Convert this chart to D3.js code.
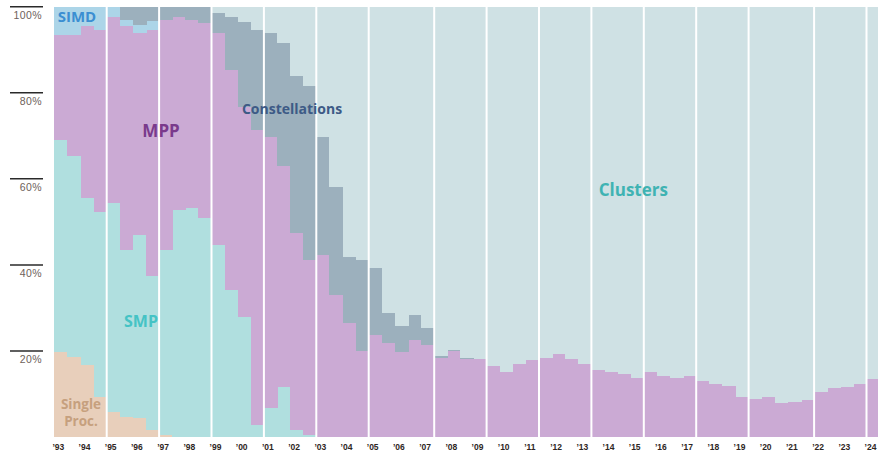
<!DOCTYPE html>
<html>
<head>
<meta charset="utf-8">
<script src="https://cdn.jsdelivr.net/npm/d3@7"></script>
<style>
  body { margin: 0; background: #fff; }
  svg { display: block; }
</style>
</head>
<body>
<div id="chart"></div>
<script>
// TOP500 architecture share, one bar per list (June / November)
const years = ["93","94","95","96","97","98","99","00","01","02","03","04","05","06","07","08",
               "09","10","11","12","13","14","15","16","17","18","19","20","21","22","23","24"];
const lists = years.flatMap(y => ["6/" + y, "11/" + y]).slice(0, 63);

const singleProc = [19.8,18.7,16.7,9.4,5.9,4.7,4.4,1.6,0.4,0, 0,0,0,0,0,0,0,0,0,0,
  0,0,0,0,0,0,0,0,0,0, 0,0,0,0,0,0,0,0,0,0, 0,0,0,0,0,0,0,0,0,0, 0,0,0,0,0,0,0,0,0,0, 0,0,0];
const smp = [49.3,46.5,38.8,43.0,48.4,38.8,42.6,35.7,43.1,52.8, 53.2,51.0,44.7,34.2,28.0,2.8,6.7,11.7,1.6,0.5,
  0,0,0,0,0,0,0,0,0,0, 0,0,0,0,0,0,0,0,0,0, 0,0,0,0,0,0,0,0,0,0, 0,0,0,0,0,0,0,0,0,0, 0,0,0];
const mpp = [24.3,28.2,39.9,42.3,43.4,51.9,46.9,57.4,53.4,44.9, 43.7,45.2,49.2,51.1,48.8,68.6,63.1,51.2,45.8,40.7,
  42.3,33.0,26.5,20.0,23.7,21.8,19.8,22.6,21.4,18.3, 20.0,18.1,18.1,16.4,15.2,17.0,17.8,18.3,19.2,18.1,
  17.0,15.6,15.2,14.6,13.8,15.2,14.2,13.8,14.2,12.9, 12.3,11.9,9.2,8.8,9.2,7.8,8.1,8.6,10.5,11.5, 11.6,12.3,13.4];
const simd = [6.6,6.6,4.6,5.3,2.3,1.6,1.9,1.9,0,0, 0,0,0,0,0,0,0,0,0,0,
  0,0,0,0,0,0,0,0,0,0, 0,0,0,0,0,0,0,0,0,0, 0,0,0,0,0,0,0,0,0,0, 0,0,0,0,0,0,0,0,0,0, 0,0,0];
const constellations = [0,0,0,0,0,3.0,4.2,3.4,3.1,2.3, 3.1,3.8,4.6,12.4,19.7,23.3,24.1,28.6,36.4,40.3,
  27.5,25.2,15.4,21.2,15.5,7.0,5.9,5.8,3.9,0.5, 0.3,0.2,0,0,0,0,0,0,0,0,
  0,0,0,0,0,0,0,0,0,0, 0,0,0,0,0,0,0,0,0,0, 0,0,0];
const clusters = [0,0,0,0,0,0,0,0,0,0, 0,0,1.5,2.3,3.5,5.3,6.1,8.5,16.2,18.5,
  30.2,41.8,58.1,58.8,60.8,71.2,74.3,71.6,74.7,81.2, 79.7,81.7,81.9,83.6,84.8,83.0,82.2,81.7,80.8,81.9,
  83.0,84.4,84.8,85.4,86.2,84.8,85.8,86.2,85.8,87.1, 87.7,88.1,90.8,91.2,90.8,92.2,91.9,91.4,89.5,88.5, 88.4,87.7,86.6];

const dividers = ["6/95","6/97","6/99","6/01","6/03","6/05","11/07","11/09","11/11","11/13",
                  "11/15","11/17","11/19","6/22","6/24"];
const yTicks = [20, 40, 60, 80, 100];

const keys = ["single", "smp", "mpp", "simd", "constellations", "clusters"];
const colors = {
  single: "#e8cfbb", smp: "#b0dfdf", mpp: "#cbaad4",
  simd: "#acd5e8", constellations: "#9cb0bd", clusters: "#cfe1e4"
};

const table = lists.map((l, i) => ({
  list: l, single: singleProc[i], smp: smp[i], mpp: mpp[i],
  simd: simd[i], constellations: constellations[i], clusters: clusters[i]
}));

const width = 878, height = 455;
const svg = d3.select("#chart").append("svg")
  .attr("width", width).attr("height", height);

const x = d3.scaleBand().domain(lists).range([54.3, 54.3 + 63 * 13.1]).padding(0);
const y = d3.scaleLinear().domain([0, 100]).range([437, 6.7]);
const xAt = i => x(lists[0]) + i * x.bandwidth();

const series = d3.stack().keys(keys)(table);

svg.append("g")
  .selectAll("g")
  .data(series)
  .join("g")
  .attr("fill", d => colors[d.key])
  .selectAll("rect")
  .data(d => d)
  .join("rect")
  .attr("shape-rendering", "crispEdges")
  .attr("x", d => x(d.data.list))
  .attr("width", x.bandwidth() + 0.5)
  .attr("y", d => y(d[1]))
  .attr("height", d => Math.max(0, y(d[0]) - y(d[1])));

// white year dividers
svg.append("g")
  .selectAll("line")
  .data(dividers)
  .join("line")
  .attr("x1", d => x(d)).attr("x2", d => x(d))
  .attr("y1", y(100)).attr("y2", y(0))
  .attr("stroke", "#fff")
  .attr("stroke-width", 2);

// y ticks: short dark rule with label underneath
const yg = svg.append("g");
yg.selectAll("line")
  .data(yTicks)
  .join("line")
  .attr("x1", 10).attr("x2", 43)
  .attr("y1", d => y(d)).attr("y2", d => y(d))
  .attr("stroke", "#2a2a2a")
  .attr("stroke-width", 1.5);
yg.selectAll("text")
  .data(yTicks)
  .join("text")
  .attr("x", 42)
  .attr("y", d => y(d) + 12)
  .attr("text-anchor", "end")
  .attr("font-family", "Liberation Sans, Arial, sans-serif")
  .attr("font-size", 10.5)
  .attr("letter-spacing", 0.4)
  .attr("fill", "#6e625a")
  .text(d => d + "%");

// x labels, one per year
svg.append("g")
  .selectAll("text")
  .data(years)
  .join("text")
  .attr("x", d => x("6/" + d) + 4)
  .attr("y", 450)
  .attr("text-anchor", "middle")
  .attr("font-family", "Liberation Sans, Arial, sans-serif")
  .attr("font-weight", "bold")
  .attr("font-size", 8.5)
  .attr("fill", "#2e2623")
  .text(d => "\u2019" + d);

// category annotations
const annotations = [
  {text: "SIMD", i: 1.73, v: 97.6, color: "#3b8fd2", size: 15},
  {text: "MPP", i: 8.15, v: 71.2, color: "#7a3a8c", size: 17},
  {text: "SMP", i: 6.62, v: 26.9, color: "#45c3c5", size: 16},
  {text: "Single", i: 2.04, v: 7.5, color: "#c6a07e", size: 13.5},
  {text: "Proc.", i: 2.04, v: 3.7, color: "#c6a07e", size: 13.5},
  {text: "Constellations", i: 18.15, v: 76.3, color: "#3d5a86", size: 14},
  {text: "Clusters", i: 44.2, v: 57.4, color: "#3fb3b3", size: 17}
];

svg.append("g")
  .selectAll("text")
  .data(annotations)
  .join("text")
  .attr("x", d => xAt(d.i))
  .attr("y", d => y(d.v))
  .attr("dy", "0.35em")
  .attr("text-anchor", "middle")
  .attr("font-family", "Open Sans, Noto Sans, sans-serif")
  .attr("font-weight", "bold")
  .attr("font-size", d => d.size)
  .attr("fill", d => d.color)
  .text(d => d.text);
</script>
</body>
</html>
